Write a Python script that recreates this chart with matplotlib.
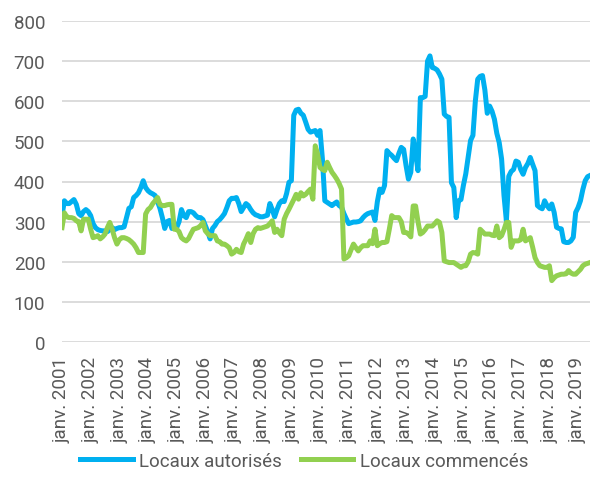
import matplotlib
matplotlib.use("Agg")
import matplotlib.pyplot as plt
import numpy as np

plt.rcParams['font.family'] = ['Roboto', 'DejaVu Sans']

years = list(range(2001, 2020))
tick_labels = [f"janv. {y}" for y in years]

autorises = [
    315, 352, 345, 345, 350, 355, 343, 320, 315, 325, 330, 325,
    315, 295, 285, 280, 278, 277, 277, 275, 280, 285, 280, 283,
    285, 285, 287, 310, 333, 337, 360, 365, 372, 385, 402, 385,
    377, 372, 369, 365, 350, 333, 310, 283, 300, 303, 283, 283,
    285, 300, 330, 315, 310, 325, 325, 322, 315, 310, 310, 305,
    290, 275, 257, 283, 290, 300, 305, 312, 320, 335, 352, 358,
    358, 360, 345, 325, 335, 345, 340, 330, 322, 317, 315, 312,
    312, 314, 316, 345, 330, 312, 330, 345, 352, 350, 370, 398,
    402, 565, 578, 580, 570, 565, 548, 530, 523, 525, 527, 515,
    527, 456, 352, 348, 344, 340, 345, 349, 340, 336, 320, 307,
    295, 297, 299, 299, 300, 302, 310, 316, 320, 322, 324, 303,
    350, 381, 373, 390, 477, 470, 465, 458, 452, 470, 485, 480,
    440, 406, 423, 506, 470, 427, 609, 609, 612, 700, 713, 684,
    682, 678, 668, 655, 568, 562, 560, 397, 385, 310, 352, 355,
    390, 419, 460, 502, 515, 600, 655, 662, 664, 628, 570, 588,
    575, 555, 520, 497, 456, 365, 302, 413, 425, 430, 451, 448,
    430, 418, 435, 445, 460, 443, 427, 340, 335, 332, 352, 340,
    332, 344, 323, 286, 283, 282, 250, 248, 248, 252, 261, 323,
    335, 352, 380, 402, 412, 415,
]

commences = [
    285, 322, 312, 310, 310, 308, 302, 300, 277, 306, 306, 306,
    281, 260, 262, 265, 257, 262, 269, 285, 298, 281, 260, 244,
    255, 260, 260, 258, 255, 250, 244, 235, 223, 223, 223, 319,
    330, 335, 345, 352, 360, 343, 340, 340, 342, 343, 343, 281,
    281, 275, 260, 255, 252, 258, 270, 281, 283, 285, 290, 298,
    277, 270, 265, 265, 265, 252, 250, 244, 244, 240, 235, 219,
    223, 231, 225, 223, 244, 256, 270, 248, 270, 281, 285, 283,
    285, 287, 289, 295, 302, 273, 281, 272, 265, 306, 320, 331,
    343, 355, 368, 356, 372, 364, 368, 375, 381, 356, 489, 468,
    435, 430, 427, 448, 435, 423, 415, 406, 395, 381, 207, 210,
    215, 230, 244, 235, 227, 235, 240, 240, 240, 252, 245, 281,
    240, 245, 248, 248, 250, 281, 315, 310, 310, 310, 300, 273,
    273, 269, 262, 339, 339, 300, 269, 273, 280, 289, 289, 289,
    295, 302, 298, 273, 202, 200, 198, 198, 198, 194, 190, 186,
    190, 190, 200, 219, 223, 222, 219, 281, 275, 269, 269, 269,
    266, 265, 289, 260, 265, 280, 298, 298, 236, 252, 252, 252,
    255, 281, 252, 256, 260, 236, 210, 198, 190, 188, 186, 186,
    190, 153, 160, 165, 167, 169, 169, 170, 178, 172, 169, 169,
    175, 181, 190, 194, 196, 198,
]

W, H = 591, 489
fig = plt.figure(figsize=(W / 100, H / 100), dpi=100)
ax = fig.add_axes([62 / W, 1 - 343 / H, (590 - 62) / W, (343 - 22) / H])

x = np.arange(len(autorises))
ax.plot(x, autorises, color='#00B0F0', lw=3.6, label='Locaux autorisés',
        solid_joinstyle='round', zorder=3)
ax.plot(x, commences, color='#92D050', lw=3.6, label='Locaux commencés',
        solid_joinstyle='round', zorder=3)

ax.set_ylim(0, 800)
ax.set_xlim(0, len(autorises) - 1)
ax.set_yticks(range(0, 801, 100))
ax.set_xticks(range(0, len(autorises), 12))
ax.set_xticklabels(tick_labels, rotation=90)
ax.grid(axis='y', color='#D9D9D9', lw=1.3, zorder=0)
ax.set_axisbelow(True)
for s in ax.spines.values():
    s.set_visible(False)
ax.tick_params(axis='both', length=0, labelsize=13.5, labelcolor='#595959')
ax.tick_params(axis='y', pad=12)
ax.tick_params(axis='x', pad=10)

fig.legend(loc='lower center', bbox_to_anchor=(0.515, 0.003), ncol=2,
           frameon=False, fontsize=13.5, labelcolor='#595959',
           handlelength=2.8, handletextpad=0.35, columnspacing=1.0)

fig.savefig('out.png', dpi=100)
